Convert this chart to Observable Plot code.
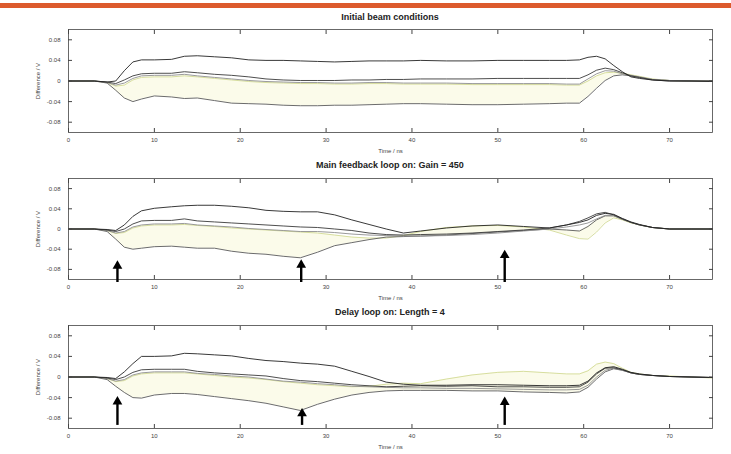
<!DOCTYPE html>
<html>
<head>
<meta charset="utf-8">
<script src="https://cdn.jsdelivr.net/npm/d3@7"></script>
<script src="https://cdn.jsdelivr.net/npm/@observablehq/plot@0.6"></script>
<style>
  html, body { margin: 0; padding: 0; background: #fff; }
  #wrap { position: relative; width: 731px; height: 454px; overflow: hidden; font-family: "Liberation Sans", Arial, sans-serif; }
  .bar { position: absolute; left: 0; top: 3px; width: 731px; height: 5px; background: #dc5a2d; }
  .title { position: absolute; left: 68px; width: 644px; text-align: center; font-weight: bold; font-size: 9px; color: #222; }
  .panel { position: absolute; left: 0; }
</style>
</head>
<body>
<div id="wrap">
  <div class="bar"></div>
</div>
<script>
// Time grid (ns)
const t = [0, 3, 4.5, 5.5, 6.5, 7.5, 8.5, 10, 12, 13.5, 15, 17, 19, 21, 23, 25, 27, 29, 31, 33, 35, 37, 39, 41, 44, 47, 50, 53, 56, 58, 59.5, 60.5, 61.5, 62.5, 63.5, 64.5, 65.5, 66.5, 68, 70, 72.5, 75];

const xTicks = [0, 10, 20, 30, 40, 50, 60, 70];
const yTicks = [-0.08, -0.04, 0, 0.04, 0.08];

const titles = ["Initial beam conditions", "Main feedback loop on: Gain = 450", "Delay loop on: Length = 4"];

// Panel 1: Initial beam conditions
const p1a = [0, 0, -0.002, 0.0, 0.02, 0.037, 0.041, 0.041, 0.042, 0.048, 0.049, 0.047, 0.045, 0.041, 0.04, 0.04, 0.039, 0.038, 0.037, 0.038, 0.039, 0.039, 0.039, 0.04, 0.039, 0.039, 0.04, 0.04, 0.04, 0.04, 0.041, 0.046, 0.048, 0.043, 0.03, 0.018, 0.008, 0.005, 0.002, 0, 0, -0.001];
const p1b = [0, 0, -0.002, -0.005, 0.002, 0.01, 0.014, 0.015, 0.015, 0.018, 0.016, 0.013, 0.011, 0.008, 0.004, 0.002, 0.001, 0.001, 0.001, 0.002, 0.002, 0.003, 0.003, 0.004, 0.004, 0.004, 0.005, 0.005, 0.005, 0.005, 0.005, 0.012, 0.021, 0.025, 0.022, 0.016, 0.01, 0.007, 0.002, 0, 0, 0];
const p1c = [0, 0, -0.003, -0.008, -0.004, 0.005, 0.01, 0.011, 0.011, 0.013, 0.01, 0.007, 0.004, 0.001, -0.001, -0.002, -0.003, -0.003, -0.004, -0.004, -0.003, -0.003, -0.004, -0.004, -0.004, -0.005, -0.005, -0.005, -0.005, -0.006, -0.006, 0.004, 0.014, 0.02, 0.019, 0.014, 0.011, 0.008, 0.003, 0.001, 0, 0];
const p1d = [0, 0, -0.004, -0.018, -0.033, -0.04, -0.035, -0.029, -0.031, -0.034, -0.033, -0.038, -0.043, -0.044, -0.045, -0.047, -0.048, -0.048, -0.047, -0.047, -0.046, -0.045, -0.044, -0.044, -0.045, -0.046, -0.046, -0.045, -0.044, -0.043, -0.043, -0.03, -0.014, 0.001, 0.01, 0.012, 0.01, 0.007, 0.003, 0.001, 0, 0];
const p1e = [0, 0, -0.003, -0.01, -0.008, 0.002, 0.007, 0.008, 0.008, 0.01, 0.008, 0.005, 0.002, -0.001, -0.003, -0.004, -0.005, -0.005, -0.006, -0.006, -0.005, -0.005, -0.006, -0.006, -0.006, -0.007, -0.007, -0.007, -0.007, -0.008, -0.008, 0.0, 0.01, 0.016, 0.017, 0.015, 0.012, 0.009, 0.004, 0.001, 0, 0];

// Panel 2: Main feedback loop on
const p2a = [0, 0, -0.001, -0.003, 0.008, 0.025, 0.036, 0.041, 0.044, 0.046, 0.047, 0.047, 0.045, 0.042, 0.037, 0.035, 0.034, 0.034, 0.028, 0.018, 0.009, 0.0, -0.008, -0.004, 0.002, 0.006, 0.008, 0.005, 0.002, 0.008, 0.013, 0.018, 0.027, 0.031, 0.029, 0.021, 0.014, 0.009, 0.003, 0, 0, 0];
const p2b = [0, 0, -0.002, -0.005, 0.0, 0.01, 0.016, 0.017, 0.017, 0.02, 0.016, 0.014, 0.012, 0.01, 0.008, 0.006, 0.004, 0.003, 0.0, -0.003, -0.008, -0.011, -0.012, -0.011, -0.01, -0.008, -0.005, -0.002, 0.002, 0.008, 0.015, 0.022, 0.03, 0.033, 0.028, 0.02, 0.013, 0.008, 0.003, 0, 0, 0];
const p2c = [0, 0, -0.003, -0.008, -0.005, 0.004, 0.008, 0.01, 0.01, 0.011, 0.008, 0.006, 0.004, 0.001, -0.001, -0.003, -0.005, -0.005, -0.007, -0.01, -0.012, -0.013, -0.014, -0.014, -0.013, -0.011, -0.008, -0.004, 0.0, 0.004, 0.008, 0.012, 0.02, 0.027, 0.027, 0.02, 0.013, 0.008, 0.003, 0, 0, 0];
const p2d = [0, 0, -0.005, -0.02, -0.036, -0.04, -0.038, -0.035, -0.034, -0.036, -0.038, -0.038, -0.044, -0.048, -0.05, -0.054, -0.057, -0.046, -0.033, -0.027, -0.021, -0.016, -0.015, -0.014, -0.012, -0.009, -0.006, -0.003, 0.0, -0.002, -0.004, 0.005, 0.018, 0.026, 0.026, 0.019, 0.013, 0.008, 0.003, 0, 0, 0];
const p2e = [0, 0, -0.003, -0.009, -0.007, 0.002, 0.006, 0.008, 0.008, 0.009, 0.007, 0.005, 0.002, 0.0, -0.002, -0.004, -0.006, -0.008, -0.012, -0.016, -0.018, -0.018, -0.013, -0.005, 0.003, 0.006, 0.007, 0.004, -0.002, -0.012, -0.019, -0.02, -0.006, 0.012, 0.022, 0.018, 0.012, 0.008, 0.003, 0, 0, 0];

// Panel 3: Delay loop on
const p3a = [0, 0, -0.001, -0.003, 0.01, 0.026, 0.04, 0.04, 0.041, 0.046, 0.045, 0.043, 0.041, 0.036, 0.032, 0.03, 0.027, 0.025, 0.021, 0.011, 0.001, -0.01, -0.014, -0.016, -0.016, -0.015, -0.015, -0.016, -0.017, -0.017, -0.016, -0.008, 0.008, 0.018, 0.02, 0.015, 0.009, 0.006, 0.003, 0.001, 0, -0.001];
const p3b = [0, 0, -0.002, -0.005, 0.0, 0.009, 0.014, 0.015, 0.015, 0.015, 0.011, 0.008, 0.006, 0.004, 0.002, -0.003, -0.007, -0.009, -0.012, -0.015, -0.017, -0.019, -0.018, -0.017, -0.018, -0.017, -0.019, -0.019, -0.02, -0.02, -0.019, -0.01, 0.006, 0.017, 0.018, 0.014, 0.008, 0.005, 0.003, 0.001, 0, -0.001];
const p3c = [0, 0, -0.003, -0.008, -0.005, 0.004, 0.008, 0.01, 0.01, 0.01, 0.007, 0.005, 0.002, 0.0, -0.004, -0.008, -0.01, -0.013, -0.015, -0.018, -0.019, -0.02, -0.021, -0.021, -0.022, -0.022, -0.023, -0.024, -0.025, -0.025, -0.024, -0.016, 0.0, 0.013, 0.017, 0.013, 0.008, 0.005, 0.003, 0.001, 0, -0.001];
const p3d = [0, 0, -0.005, -0.018, -0.03, -0.04, -0.041, -0.035, -0.032, -0.032, -0.034, -0.038, -0.042, -0.046, -0.051, -0.058, -0.065, -0.053, -0.043, -0.035, -0.03, -0.027, -0.026, -0.026, -0.026, -0.027, -0.027, -0.029, -0.03, -0.031, -0.029, -0.02, -0.004, 0.01, 0.016, 0.013, 0.008, 0.005, 0.003, 0.001, 0, -0.001];
const p3e = [0, 0, -0.003, -0.009, -0.007, 0.002, 0.006, 0.008, 0.008, 0.008, 0.006, 0.003, 0.0, -0.002, -0.005, -0.009, -0.012, -0.015, -0.017, -0.019, -0.018, -0.014, -0.012, -0.013, -0.004, 0.004, 0.009, 0.011, 0.008, 0.006, 0.006, 0.012, 0.025, 0.029, 0.026, 0.017, 0.009, 0.006, 0.003, 0.002, 0, -0.002];

// Arrows (time position, tip value, base value)
const arrowT2 = [5.7, 27.1, 50.8];
const arrowTip2 = [-0.068, -0.066, -0.047];
const arrowBase2 = -0.106;
const arrowT3 = [5.7, 27.2, 50.8];
const arrowTip3 = [-0.043, -0.066, -0.044];
const arrowBase3 = -0.094;

const panels = [
  {top: 25, height: 135, mb: 28, series: [p1a, p1b, p1c, p1d, p1e], arrows: null},
  {top: 174, height: 130, mb: 25, series: [p2a, p2b, p2c, p2d, p2e], arrows: {t: arrowT2, tip: arrowTip2, base: arrowBase2}},
  {top: 321, height: 133, mb: 26, series: [p3a, p3b, p3c, p3d, p3e], arrows: {t: arrowT3, tip: arrowTip3, base: arrowBase3}}
];
const titleTops = [12, 160, 307];

const lineColors = ["#222", "#3a3a3a", "#8e8e8e", "#5a5a5a", "#d3da96"];
const fmt = v => v === 0 ? "0" : (v < 0 ? "-" : "") + Math.abs(v).toFixed(2);

const wrap = document.getElementById("wrap");

panels.forEach((p, i) => {
  const [a, b, c, d, e] = p.series;
  const rows = t.map((x, k) => ({t: x, a: a[k], b: b[k], c: c[k], d: d[k], e: e[k]}));
  const marks = [
    Plot.areaY(rows, {x: "t", y1: "d", y2: "e", fill: "#fbfbea"}),
    Plot.lineY(rows, {x: "t", y: "e", stroke: lineColors[4], strokeWidth: 0.9}),
    Plot.lineY(rows, {x: "t", y: "d", stroke: lineColors[3], strokeWidth: 0.9}),
    Plot.lineY(rows, {x: "t", y: "c", stroke: lineColors[2], strokeWidth: 0.9}),
    Plot.lineY(rows, {x: "t", y: "b", stroke: lineColors[1], strokeWidth: 0.9}),
    Plot.lineY(rows, {x: "t", y: "a", stroke: lineColors[0], strokeWidth: 0.9}),
    Plot.frame({stroke: "#444", strokeWidth: 0.8}),
    Plot.axisX({anchor: "bottom", ticks: xTicks, tickSize: -4, tickPadding: 9, tickFormat: d3.format("d"), label: "Time / ns", labelAnchor: "center", labelArrow: "none", labelOffset: 20, stroke: "#444"}),
    Plot.axisX({anchor: "top", ticks: xTicks, tickSize: -4, tickFormat: () => "", label: null, stroke: "#444"}),
    Plot.axisY({anchor: "left", ticks: yTicks, tickSize: -4, tickPadding: 12, tickFormat: fmt, label: "Difference / V", labelAnchor: "center", labelArrow: "none", labelOffset: 33, stroke: "#444"}),
    Plot.axisY({anchor: "right", ticks: yTicks, tickSize: -4, tickFormat: () => "", label: null, stroke: "#444"})
  ];
  if (p.arrows) {
    const arr = p.arrows.t.map((x, k) => ({t: x, tip: p.arrows.tip[k], base: p.arrows.base}));
    marks.push(Plot.ruleX(arr, {x: "t", y1: "base", y2: "tip", stroke: "#000", strokeWidth: 2.4, dy: 0}));
    marks.push(Plot.dot(arr, {x: "t", y: "tip", symbol: "triangle", r: 3.6, fill: "#000", stroke: "none", dy: 2.5}));
  }
  const chart = Plot.plot({
    width: 731,
    height: p.height,
    marginLeft: 68,
    marginRight: 19,
    marginTop: 4,
    marginBottom: p.mb,
    x: {domain: [0, 75]},
    y: {domain: [-0.1, 0.1]},
    style: {fontFamily: "'Liberation Sans', Arial, sans-serif", fontSize: "6px", color: "#444", background: "transparent", overflow: "visible"},
    marks
  });
  const holder = document.createElement("div");
  holder.className = "panel";
  holder.style.top = p.top + "px";
  holder.appendChild(chart);
  wrap.appendChild(holder);

  const ttl = document.createElement("div");
  ttl.className = "title";
  ttl.style.top = titleTops[i] + "px";
  ttl.textContent = titles[i];
  wrap.appendChild(ttl);
});
</script>
</body>
</html>
